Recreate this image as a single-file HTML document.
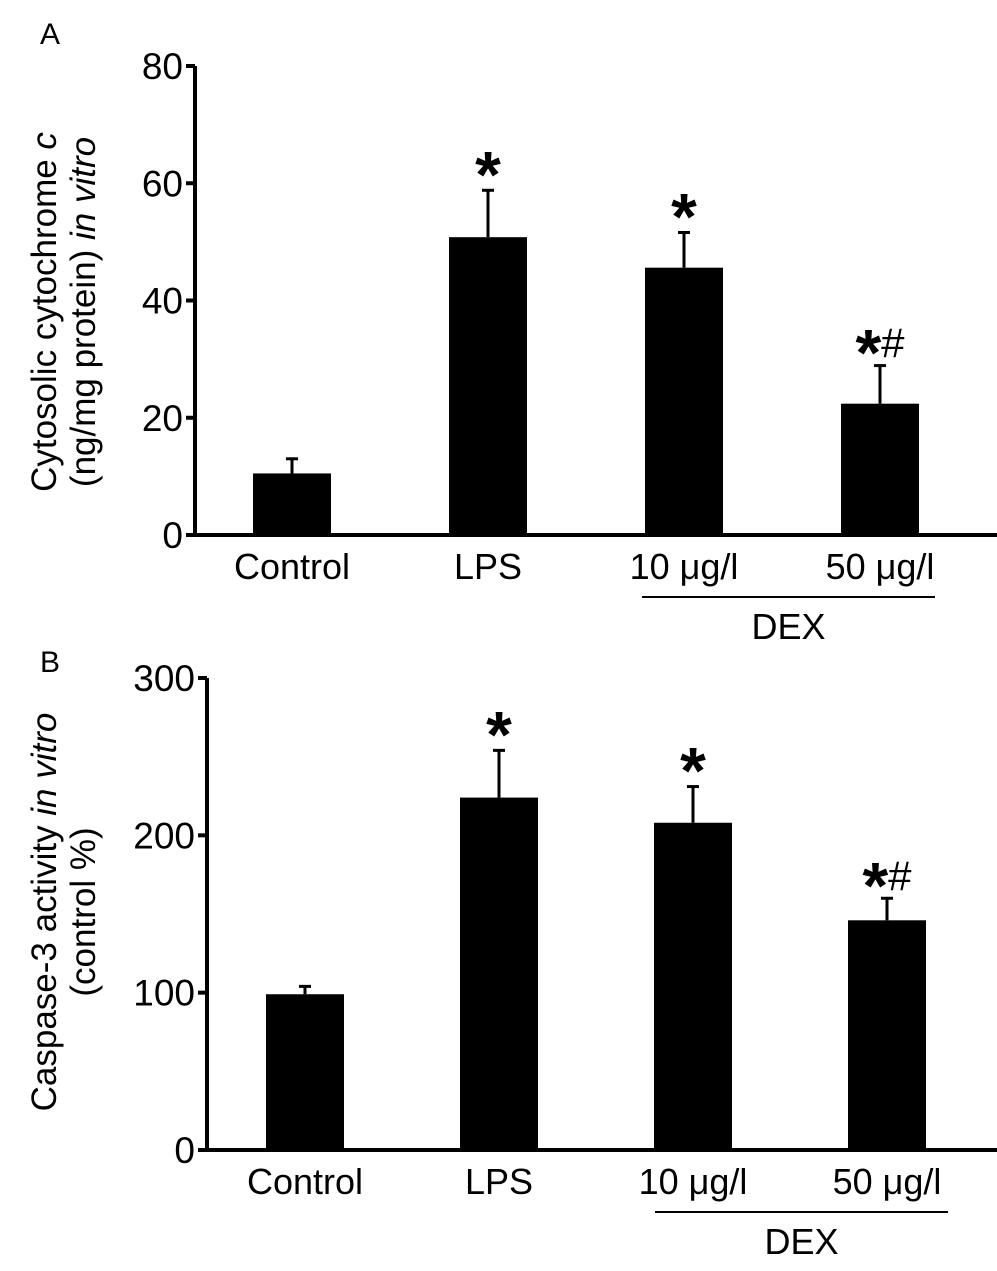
<!DOCTYPE html>
<html><head><meta charset="utf-8"><style>
body{margin:0;background:#fff}
svg{display:block;font-family:"Liberation Sans",Arial,sans-serif}
</style></head><body>
<svg id="fig" width="997" height="1271" viewBox="0 0 997 1271" xmlns="http://www.w3.org/2000/svg">
<text x="40" y="44" font-size="30">A</text>
<text x="40" y="672" font-size="30">B</text>
<g id="pa"></g>
<g id="pb"></g>
<text transform="translate(56,312) rotate(-90)" text-anchor="middle" font-size="35">Cytosolic cytochrome <tspan font-style="italic">c</tspan></text>
<text transform="translate(95,312) rotate(-90)" text-anchor="middle" font-size="35">(ng/mg protein) <tspan font-style="italic">in vitro</tspan></text>
<text transform="translate(56,912) rotate(-90)" text-anchor="middle" font-size="35">Caspase-3 activity <tspan font-style="italic">in vitro</tspan></text>
<text transform="translate(95,912) rotate(-90)" text-anchor="middle" font-size="35">(control %)</text>
</svg>
<script>
const categories = ["Control","LPS","10 \u03bcg/l","50 \u03bcg/l"];
const annotations = ["","*","*","*#"];
const valuesA = [10.5, 50.8, 45.6, 22.4];
const errorsA = [2.5, 8.0, 6.0, 6.5];
const ticksA = [0,20,40,60,80];
const valuesB = [99, 224, 208, 146];
const errorsB = [5, 30, 23, 14];
const ticksB = [0,100,200,300];

const NS="http://www.w3.org/2000/svg";
function mk(parent,tag,attrs,txt){const e=document.createElementNS(NS,tag);for(const k in attrs)e.setAttribute(k,attrs[k]);if(txt!==undefined)e.textContent=txt;parent.appendChild(e);return e;}

function drawPanel(g, prefix, values, errors, ticks, cfg){
  const y = v => cfg.y0 - v / ticks[ticks.length-1] * (cfg.y0 - cfg.yTop);
  const x = i => cfg.xStart + i * cfg.step;
  const ya = mk(g,'line',{x1:cfg.ax,y1:cfg.yTop,x2:cfg.ax,y2:cfg.y0+2,stroke:'#000','stroke-width':4});
  
  
  const xa = mk(g,'line',{x1:cfg.ax-2,y1:cfg.y0,x2:cfg.xEnd,y2:cfg.y0,stroke:'#000','stroke-width':4});
  
  
  ticks.forEach(t=>{
    const ty=y(t);
    const tl = mk(g,'line',{x1:cfg.ax-9,y1:ty,x2:cfg.ax,y2:ty,stroke:'#000','stroke-width':4});
    
    
    const tt = mk(g,'text',{x:cfg.ax-12,y:ty+13,'text-anchor':'end','font-size':37},String(t));
    
    
  });
  values.forEach((v,i)=>{
    const cx=x(i), top=y(v), et=y(v+errors[i]);
    const el = mk(g,'line',{x1:cx,y1:et,x2:cx,y2:top,stroke:'#000','stroke-width':3});
    
    
    const cap = mk(g,'line',{x1:cx-6,y1:et,x2:cx+6,y2:et,stroke:'#000','stroke-width':3});
    
    
    const r = mk(g,'rect',{x:cx-cfg.bw/2,y:top,width:cfg.bw,height:cfg.y0-top,fill:'#000'});
    
    
    const lb = mk(g,'text',{x:cx,y:cfg.y0+44,'text-anchor':'middle','font-size':36},categories[i]);
    
    
    if(annotations[i]){
      const a = mk(g,'text',{x:cx,y:et+7,'text-anchor':'middle','font-size':40},'');
      
      
      mk(a,'tspan',{'font-size':66,'font-weight':'bold'},'*');
      if(annotations[i].length>1){ mk(a,'tspan',{'font-size':42,dy:-18},annotations[i].slice(1)); a.setAttribute('y', et+10); }
    }
  });
  const dl = mk(g,'line',{x1:cfg.dexX1,y1:cfg.y0+62,x2:cfg.dexX2,y2:cfg.y0+62,stroke:'#000','stroke-width':2});
  
  
  const dt = mk(g,'text',{x:(cfg.dexX1+cfg.dexX2)/2,y:cfg.y0+104,'text-anchor':'middle','font-size':36},'DEX');
  
  
}
drawPanel(document.getElementById('pa'),'panel-a',valuesA,errorsA,ticksA,
  {ax:195,y0:535,yTop:66,xStart:292,step:196,bw:78,xEnd:997,dexX1:642,dexX2:935});
drawPanel(document.getElementById('pb'),'panel-b',valuesB,errorsB,ticksB,
  {ax:207,y0:1150,yTop:678,xStart:305,step:194,bw:78,xEnd:997,dexX1:655,dexX2:948});
</script>
</body></html>
